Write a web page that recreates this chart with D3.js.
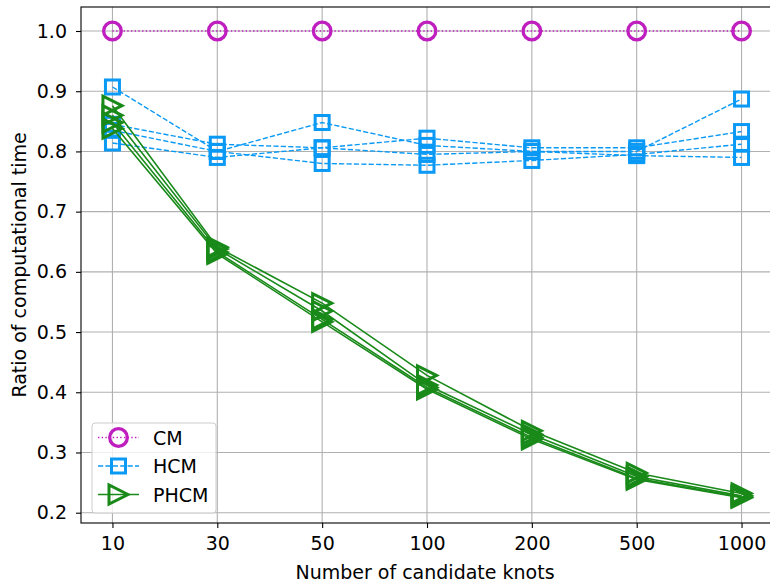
<!DOCTYPE html>
<html>
<head>
<meta charset="utf-8">
<script src="https://cdn.jsdelivr.net/npm/d3@7"></script>
<style>
  body { margin: 0; background: #fff; }
  svg { display: block; }
</style>
</head>
<body>
<script>
// categories on the x axis
var knots = ["10", "30", "50", "100", "200", "500", "1000"];
var yTicks = [0.2, 0.3, 0.4, 0.5, 0.6, 0.7, 0.8, 0.9, 1.0];

// CM is the reference, always 1
var cmRuns = [
    [1.0, 1.0, 1.0, 1.0, 1.0, 1.0, 1.0]
];

// HCM, one array per run
var hcmRuns = [
    [0.907, 0.800, 0.848, 0.810, 0.800, 0.800, 0.887],
    [0.845, 0.812, 0.806, 0.822, 0.806, 0.806, 0.833],
    [0.835, 0.800, 0.780, 0.777, 0.785, 0.795, 0.812],
    [0.814, 0.790, 0.806, 0.795, 0.800, 0.793, 0.790]
];

// PHCM, one array per run
var phcmRuns = [
    [0.876, 0.641, 0.548, 0.428, 0.336, 0.266, 0.232],
    [0.860, 0.638, 0.535, 0.412, 0.330, 0.260, 0.228],
    [0.848, 0.633, 0.521, 0.408, 0.325, 0.257, 0.226],
    [0.838, 0.630, 0.517, 0.405, 0.322, 0.255, 0.225]
];

var W = 770, H = 587;
var margin = { top: 7, left: 81, bottom: 64 };
var plotBottom = H - margin.bottom;   // 523
var fontSize = "19px";

var svg = d3.select("body").append("svg")
    .attr("width", W)
    .attr("height", H)
    .style("font-family", "'DejaVu Sans', sans-serif");

// x: category index, with some padding on both sides
var x = d3.scaleLinear()
    .domain([-0.3, knots.length - 1 + 0.3])
    .range([margin.left, 773]);

var y = d3.scaleLinear()
    .domain([0.2, 1.0])
    .range([512.7, 31]);

var xRight = x.range()[1];

// grid
svg.append("g").selectAll("line.gx")
    .data(knots)
    .enter().append("line")
    .attr("x1", function(d, i) { return x(i); })
    .attr("x2", function(d, i) { return x(i); })
    .attr("y1", margin.top)
    .attr("y2", plotBottom)
    .attr("stroke", "#b0b0b0")
    .attr("stroke-width", 1.1);

svg.append("g").selectAll("line.gy")
    .data(yTicks)
    .enter().append("line")
    .attr("x1", margin.left)
    .attr("x2", xRight)
    .attr("y1", function(d) { return y(d); })
    .attr("y2", function(d) { return y(d); })
    .attr("stroke", "#b0b0b0")
    .attr("stroke-width", 1.1);

// axes
var xAxis = d3.axisBottom(x)
    .tickValues(d3.range(knots.length))
    .tickFormat(function(i) { return knots[i]; })
    .tickSizeInner(5)
    .tickSizeOuter(0)
    .tickPadding(9);

var yAxis = d3.axisLeft(y)
    .tickValues(yTicks)
    .tickFormat(d3.format(".1f"))
    .tickSizeInner(5)
    .tickSizeOuter(0)
    .tickPadding(9);

var gx = svg.append("g")
    .attr("transform", "translate(0," + plotBottom + ")")
    .call(xAxis);
gx.select(".domain").remove();

var gy = svg.append("g")
    .attr("transform", "translate(" + margin.left + ",0)")
    .call(yAxis);
gy.select(".domain").remove();

svg.selectAll(".tick line").attr("stroke", "#000").attr("stroke-width", 1.1);
svg.selectAll(".tick text")
    .attr("fill", "#000")
    .style("font-size", fontSize)
    .style("font-family", "'DejaVu Sans', sans-serif");

// spines
svg.append("rect")
    .attr("x", margin.left)
    .attr("y", margin.top)
    .attr("width", xRight - margin.left)
    .attr("height", plotBottom - margin.top)
    .attr("fill", "none")
    .attr("stroke", "#000")
    .attr("stroke-width", 1.1);

// axis labels
svg.append("text")
    .attr("x", (margin.left + xRight) / 2 - 2)
    .attr("y", 579)
    .attr("text-anchor", "middle")
    .style("font-size", fontSize)
    .text("Number of candidate knots");

svg.append("text")
    .attr("transform", "rotate(-90)")
    .attr("x", -(margin.top + plotBottom) / 2)
    .attr("y", 26)
    .attr("text-anchor", "middle")
    .style("font-size", fontSize)
    .text("Ratio of computational time");

var line = d3.line()
    .x(function(d, i) { return x(i); })
    .y(function(d) { return y(d); });

var series = [
    { name: "CM", runs: cmRuns, color: "#bf1fbf", dash: "1.4,2.3", lw: 1.4, marker: "circle" },
    { name: "HCM", runs: hcmRuns, color: "#0a99f5", dash: "5.2,2.2", lw: 1.4, marker: "square" },
    { name: "PHCM", runs: phcmRuns, color: "#198a19", dash: null, lw: 1.6, marker: "triangle" }
];

function drawMarker(g, type, color, cx, cy) {
    if (type === "circle") {
        g.append("circle")
            .attr("cx", cx).attr("cy", cy).attr("r", 8.8)
            .attr("fill", "none").attr("stroke", color).attr("stroke-width", 3.3);
    } else if (type === "square") {
        g.append("rect")
            .attr("x", cx - 7).attr("y", cy - 7)
            .attr("width", 14).attr("height", 14)
            .attr("fill", "none").attr("stroke", color).attr("stroke-width", 3);
    } else {
        var s = 9.5;
        g.append("path")
            .attr("d", "M" + (cx + s) + "," + cy +
                "L" + (cx - s) + "," + (cy - s) +
                "L" + (cx - s) + "," + (cy + s) + "Z")
            .attr("fill", "none").attr("stroke", color).attr("stroke-width", 3)
            .attr("stroke-linejoin", "miter");
    }
}

var plot = svg.append("g");
series.forEach(function(s) {
    s.runs.forEach(function(run) {
        var g = plot.append("g");
        g.append("path")
            .datum(run)
            .attr("d", line)
            .attr("fill", "none")
            .attr("stroke", s.color)
            .attr("stroke-width", s.lw)
            .attr("stroke-dasharray", s.dash);
        run.forEach(function(v, i) {
            drawMarker(g, s.marker, s.color, x(i), y(v));
        });
    });
});

// legend
var lg = svg.append("g");
lg.append("rect")
    .attr("x", 92).attr("y", 423)
    .attr("width", 124).attr("height", 90)
    .attr("rx", 3)
    .attr("fill", "#fff").attr("fill-opacity", 0.8)
    .attr("stroke", "#cccccc").attr("stroke-width", 1);

series.forEach(function(s, i) {
    var ly = 437.5 + i * 28.5;
    lg.append("line")
        .attr("x1", 98).attr("x2", 139)
        .attr("y1", ly).attr("y2", ly)
        .attr("stroke", s.color)
        .attr("stroke-width", s.lw)
        .attr("stroke-dasharray", s.dash);
    drawMarker(lg, s.marker, s.color, 118.5, ly);
    lg.append("text")
        .attr("x", 153).attr("y", ly + 7)
        .style("font-size", fontSize)
        .text(s.name);
});
</script>
</body>
</html>
